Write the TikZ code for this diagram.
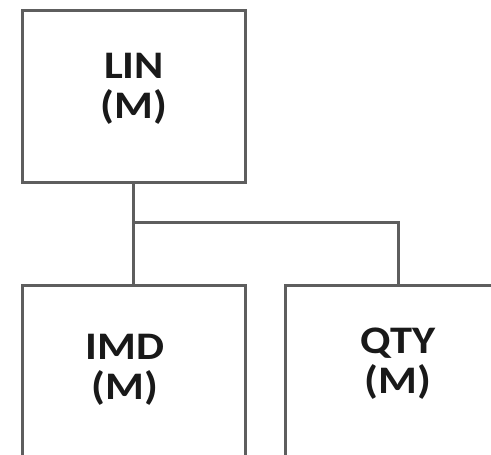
\documentclass[tikz,border=0pt]{standalone}
\usepackage{fontspec}
\setmainfont{Carlito}
\begin{document}
\begin{tikzpicture}[x=1pt,y=-1pt,
  box/.style={draw=linegray,line width=3pt,fill=white,minimum width=#1,inner sep=0pt},
  lbl/.style={font=\bfseries\fontsize{39}{40}\selectfont,align=center,text=black!90,inner sep=0pt,xscale=1.14,transform shape},
  conn/.style={draw=linegray,line width=3pt}]
\definecolor{linegray}{HTML}{5E5E5E}
\useasboundingbox (0,0) rectangle (491,455);
\clip (0,0) rectangle (491,455);
\node[box=223pt,minimum height=172pt] (lin) at (133.5,96) {};
\node[box=223pt,minimum height=220pt] (imd) at (133.5,395) {};
\node[box=226pt,minimum height=220pt] (qty) at (398,395) {};
\coordinate (j) at (133.5,222);
\draw[conn] (lin.south) -- (imd.north);
\draw[conn] (j) -| (qty.north);
\node[lbl] (tlin) at (134,88.5) {LIN\\(M)};
\node[lbl] (timd) at (125,370) {IMD\\(M)};
\node[lbl] (tqty) at (398,364) {QTY\\(M)};
\end{tikzpicture}
\end{document}
